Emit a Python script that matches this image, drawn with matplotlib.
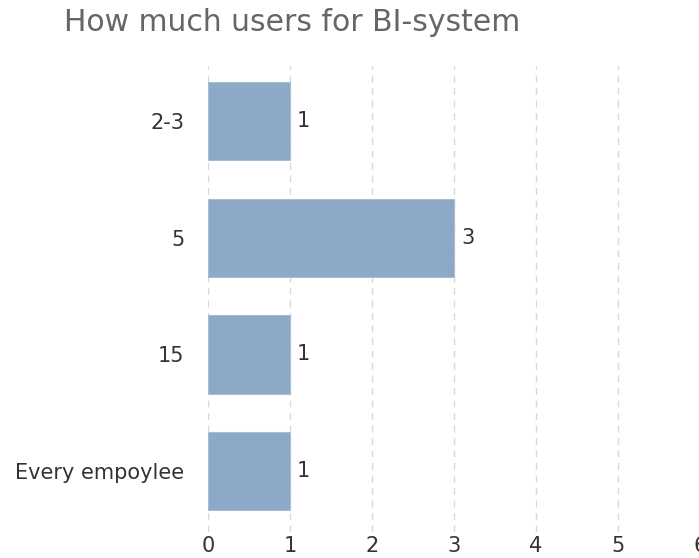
import numpy as np
import matplotlib.pyplot as plt

categories = ["2-3", "5", "15", "Every empoylee"]
counts = [1, 3, 1, 1]
x_ticks = [0, 1, 2, 3, 4, 5, 6]

title = "How much users for BI-system"


def main():
    plt.rc("font", family="DejaVu Sans")

    fig = plt.figure(figsize=(6.99, 5.58), dpi=100)
    ax = fig.add_axes([208 / 699, 26 / 558, 492 / 699, 466 / 558])

    y = np.arange(len(categories))
    bars = ax.barh(y, counts, height=0.67, color="#8da9c8",
                   edgecolor="#a7bcd5", linewidth=0.8, zorder=3)
    ax.bar_label(bars, labels=[str(c) for c in counts], padding=5,
                 fontsize=15, color="#333333")

    ax.set_xlim(0, 6)
    ax.set_ylim(3.52, -0.47)
    ax.set_xticks(x_ticks)
    ax.set_yticks(y)
    ax.set_yticklabels(categories)
    ax.tick_params(axis="both", length=0, labelsize=15, colors="#333333")
    ax.tick_params(axis="x", pad=3)
    ax.tick_params(axis="y", pad=17)

    ax.grid(True, axis="x", linestyle=(0, (5, 4)), color="#d9d9d9",
            linewidth=1, zorder=0)
    ax.grid(False, axis="y")
    for s in ax.spines.values():
        s.set_visible(False)

    fig.text(64 / 699, 1 - 8 / 558, title, fontsize=21.5, color="#666666",
             ha="left", va="top")

    fig.savefig("out.png", dpi=100)


if __name__ == "__main__":
    main()
